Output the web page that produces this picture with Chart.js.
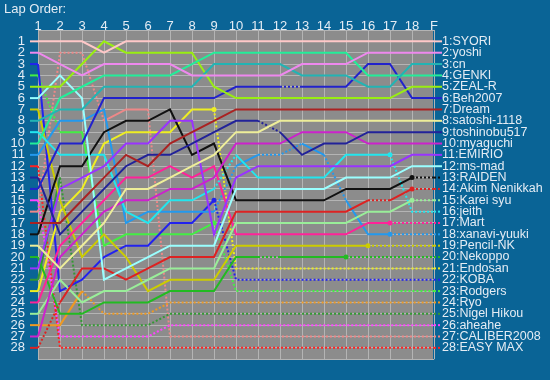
<!DOCTYPE html>
<html><head><meta charset="utf-8">
<script src="https://cdn.jsdelivr.net/npm/chart.js@4.4.1/dist/chart.umd.min.js"></script>
<style>html,body{margin:0;padding:0;background:#0a6496;}#w{width:550px;height:380px;position:relative;}</style>
</head><body><div id="w"><canvas id="c"></canvas></div>
<script>
const laps = ['1','2','3','4','5','6','7','8','9','10','11','12','13','14','15','16','17','18','F'];
const drivers = ['SYORI','yoshi','cn','GENKI','ZEAL-R','Beh2007','Dream','satoshi-1118','toshinobu517','myaguchi','EMIRIO','ms-mad','RAIDEN','Akim Nenikkah','Karei syu','jeith','Mart','xanavi-yuuki','Pencil-NK','Nekoppo','Endosan','KOBA','Rodgers','Ryo','Nigel Hikou','aheahe','CALIBER2008','EASY MAX'];
const colors = ['#ffc8c8','#ee88ee','#22b4b4','#22ee99','#99ee11','#2222cc','#aa2222','#eeee99','#222299','#cc22cc','#9933ff','#99ffff','#111111','#dd2222','#99ee99','#22e6ee','#ff2299','#2299ee','#cccc00','#22bb22','#eeee22','#2222ee','#44ee44','#ee9922','#339933','#ff44ff','#ee8888','#ff2222'];
const positions = [
 [1,1,1,2,1,1,1,1,1,1,1,1,1,1,1,1,1,1,1],
 [2,3,4,3,3,3,3,4,4,4,4,4,3,3,3,2,2,2,2],
 [8,7,7,5,5,5,5,5,3,3,3,3,4,4,4,5,5,3,3],
 [10,6,5,4,4,4,4,3,2,2,2,2,2,2,2,4,4,4,4],
 [5,5,3,1,2,2,2,2,5,6,6,6,6,6,6,6,6,5,5],
 [14,10,10,6,6,6,6,6,6,5,5,5,5,5,5,3,3,6,6],
 [17,17,15,13,11,12,10,9,8,7,7,7,7,7,7,7,7,7,7],
 [19,21,19,17,14,14,13,12,11,9,9,8,8,8,8,8,8,8,8],
 [13,18,16,14,12,11,11,10,9,8,8,9,11,10,10,9,9,9,9],
 [27,20,18,16,15,15,14,14,13,10,10,10,9,9,9,10,10,10,10],
 [21,14,13,12,10,10,8,8,18,13,12,12,12,12,12,12,12,11,11],
 [6,4,6,22,21,20,19,19,19,14,14,14,14,14,13,13,13,12,12],
 [18,12,12,9,8,8,7,11,10,15,15,15,15,15,14,14,14,13,13],
 [28,24,21,21,22,21,20,20,20,16,16,16,16,16,16,15,15,14,14],
 [25,22,24,23,23,22,21,21,21,17,17,17,17,17,17,16,16,15,15],
 [9,11,11,11,16,17,15,15,14,11,13,13,13,13,11,11,11,16,16],
 [24,19,17,15,13,13,12,13,12,18,18,18,18,18,18,17,17,17,17],
 [11,8,8,7,17,16,16,16,16,12,11,11,10,11,15,18,18,18,18],
 [7,15,20,18,20,23,22,22,22,19,19,19,19,19,19,19,19,19,19],
 [20,25,25,24,24,24,23,23,23,20,20,20,20,20,20,20,20,20,20],
 [23,16,14,10,9,9,9,7,7,21,21,21,21,21,21,21,21,21,21],
 [3,23,22,20,19,19,17,17,15,22,22,22,22,22,22,22,22,22,22],
 [4,9,9,19,18,18,18,18,17,23,23,23,23,23,23,23,23,23,23],
 [26,26,23,25,25,25,24,24,24,24,24,24,24,24,24,24,24,24,24],
 [22,13,26,26,26,26,25,25,25,25,25,25,25,25,25,25,25,25,25],
 [15,27,27,27,27,27,26,26,26,26,26,26,26,26,26,26,26,26,26],
 [16,2,2,8,7,7,27,27,27,27,27,27,27,27,27,27,27,27,27],
 [12,28,28,28,28,28,28,28,28,28,28,28,28,28,28,28,28,28,28]
];
// segment indexes (from lap column i to i+1) drawn dotted
const range = (a,b)=>{const r=[];for(let i=a;i<=b;i++)r.push(i);return r;};
const dottedSegs = [
 [],[],[],[],[],[11],[],[],[10],[],[],[],[17],[0,15,17],[17],[8,16,17],[16,17],[8,10,11,13,16,17],
 range(15,17),[10].concat(range(14,17)),range(8,17),range(8,17),[0].concat(range(8,17)),range(2,17),range(1,17),range(0,17),[0,1,2].concat(range(5,17)),range(0,17)
];
// lap column indexes with an end marker dot
const endMarks = [
 [],[],[],[],[],[],[],[],[],[],[],[],[17],[17],[17],[16],[16],[16],[15],[14],[8],[8],[8],[],[],[],[],[]
];

const datasets = drivers.map((n,i)=>({
  label:n,
  data:positions[i],
  borderColor:colors[i],
  backgroundColor:colors[i],
  borderWidth:2,
  tension:0,
  fill:false,
  pointRadius:positions[i].map((_,k)=>endMarks[i].includes(k)?2.5:0),
  pointBorderWidth:0,
  pointBackgroundColor:colors[i],
  segment:{borderDash:ctx=>dottedSegs[i].includes(ctx.p0DataIndex)?[2,2]:undefined}
}));

const textCol = '#e4ecf4';
Chart.defaults.font.family = "'Liberation Sans', Arial, sans-serif";
Chart.defaults.font.size = 13;

const decor = {
  id:'decor',
  beforeDraw(chart){
    const {ctx, chartArea:a} = chart;
    ctx.save(); ctx.fillStyle='#8c8c8c';
    ctx.fillRect(a.left,a.top,a.right-a.left-1,a.bottom-a.top);
    ctx.restore();
  },
  afterDatasetsDraw(chart){
    const {ctx, chartArea:a, scales} = chart;
    ctx.save(); ctx.lineWidth=2;
    drivers.forEach((n,i)=>{
      const p = positions[i];
      ctx.strokeStyle = colors[i];
      let y = scales.y.getPixelForValue(p[0]);
      ctx.setLineDash([]);
      ctx.beginPath(); ctx.moveTo(a.left-8,y); ctx.lineTo(a.left,y); ctx.stroke();
      y = scales.y.getPixelForValue(p[p.length-1]);
      ctx.setLineDash(dottedSegs[i].includes(p.length-2)?[2,2]:[]);
      ctx.beginPath(); ctx.moveTo(a.right,y); ctx.lineTo(a.right+8,y); ctx.stroke();
    });
    ctx.restore();
  },
  afterDraw(chart){
    const ctx = chart.ctx;
    ctx.save(); ctx.fillStyle=textCol; ctx.font="13px 'Liberation Sans', Arial, sans-serif";
    ctx.textBaseline='middle'; ctx.textAlign='left';
    ctx.fillText('Lap Order:',4,9);
    ctx.restore();
  }
};

new Chart(document.getElementById('c'),{
  type:'line',
  data:{labels:laps, datasets},
  options:{
    responsive:true, maintainAspectRatio:false, animation:false,
    layout:{padding:{left:0,right:0,top:0,bottom:8}},
    plugins:{legend:{display:false},tooltip:{enabled:false}},
    scales:{
      x:{position:'top', offset:false,
         grid:{color:'#b4b4b4',lineWidth:1,drawTicks:false},
         border:{display:false},
         ticks:{color:textCol,padding:0,autoSkip:false,maxRotation:0,font:{size:13,lineHeight:0.6}},
         afterFit:s=>{s.height=30;}},
      y:{type:'linear', reverse:true, min:0, max:29, position:'left',
         grid:{color:'#b4b4b4',lineWidth:1,drawTicks:false},
         border:{display:false},
         ticks:{color:textCol,stepSize:1,autoSkip:false,padding:13,font:{size:13},
                callback:v=>(v>=1&&v<=28)?String(v):''},
         afterFit:s=>{s.width=38;}},
      y2:{type:'linear', reverse:true, min:0, max:29, position:'right',
         grid:{display:false,drawTicks:false},
         border:{display:false},
         ticks:{color:textCol,stepSize:1,autoSkip:false,padding:8,font:{size:12.5},
                callback:v=>(v>=1&&v<=28)?(v+':'+drivers[v-1]):''},
         afterFit:s=>{s.width=116;}}
    }
  },
  plugins:[decor]
});
</script></body></html>
